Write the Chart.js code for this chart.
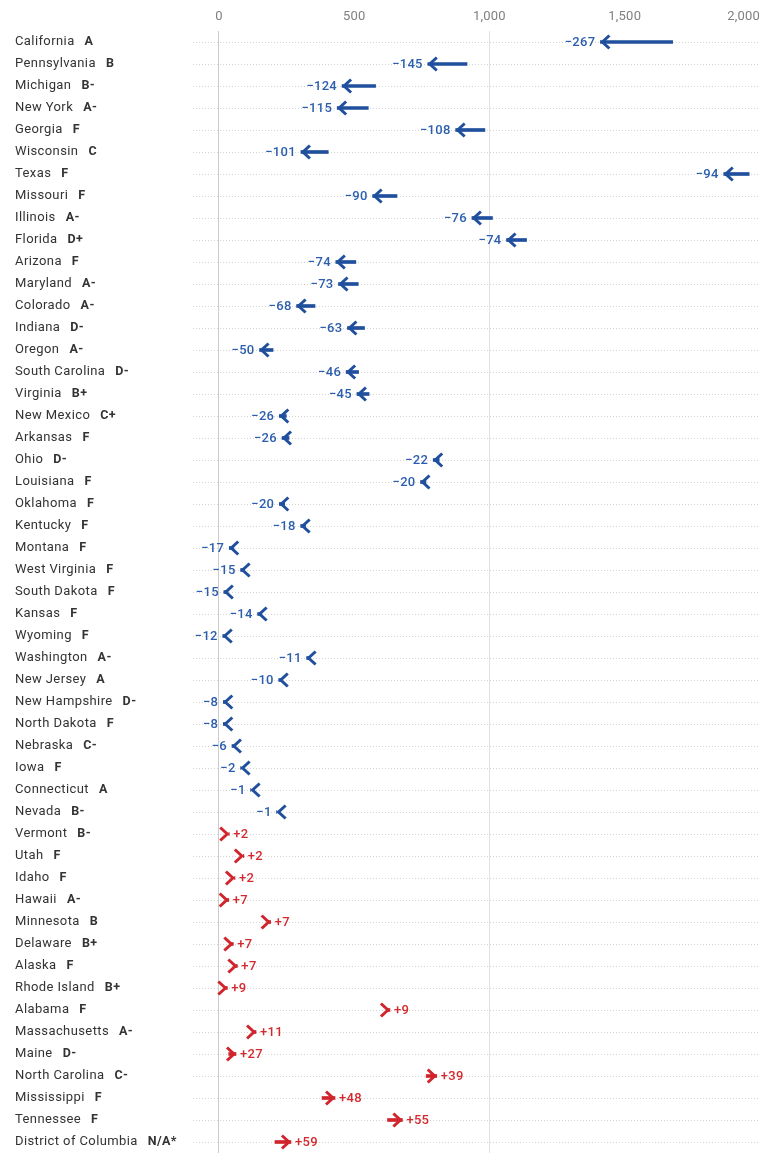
<!DOCTYPE html>
<html>
<head>
<meta charset="utf-8">
<script src="https://cdn.jsdelivr.net/npm/chart.js@4/dist/chart.umd.min.js"></script>
<style>
  html, body { margin: 0; padding: 0; background: #fff; }
  #wrap { width: 760px; height: 1153px; position: relative; }
</style>
</head>
<body>
<div id="wrap"><canvas id="arrowChart"></canvas></div>
<script>
// states in chart order, top to bottom
const states = ['California', 'Pennsylvania', 'Michigan', 'New York', 'Georgia', 'Wisconsin', 'Texas',
    'Missouri', 'Illinois', 'Florida', 'Arizona', 'Maryland', 'Colorado', 'Indiana', 'Oregon',
    'South Carolina', 'Virginia', 'New Mexico', 'Arkansas', 'Ohio', 'Louisiana', 'Oklahoma', 'Kentucky',
    'Montana', 'West Virginia', 'South Dakota', 'Kansas', 'Wyoming', 'Washington', 'New Jersey',
    'New Hampshire', 'North Dakota', 'Nebraska', 'Iowa', 'Connecticut', 'Nevada', 'Vermont', 'Utah',
    'Idaho', 'Hawaii', 'Minnesota', 'Delaware', 'Alaska', 'Rhode Island', 'Alabama', 'Massachusetts',
    'Maine', 'North Carolina', 'Mississippi', 'Tennessee', 'District of Columbia'];
const grades = ['A', 'B', 'B-', 'A-', 'F', 'C', 'F', 'F', 'A-', 'D+', 'F', 'A-', 'A-', 'D-', 'A-',
    'D-', 'B+', 'C+', 'F', 'D-', 'F', 'F', 'F', 'F', 'F', 'F', 'F', 'F', 'A-', 'A',
    'D-', 'F', 'C-', 'F', 'A', 'B-', 'B-', 'F', 'F', 'A-', 'B', 'B+', 'F', 'B+', 'F', 'A-',
    'D-', 'C-', 'F', 'F', 'N/A*'];
// arrow tail (before) and head (after)
const before = [1677, 917, 579, 552, 983, 404, 1960, 658, 1011, 1137, 506, 515, 355, 538, 200,
    516, 555, 249, 259, 814, 765, 243, 320, 55, 95, 33, 157, 26, 335, 231,
    24, 24, 54, 82, 118, 214, 36, 90, 57, 29, 184, 46, 61, 22, 623, 126,
    36, 766, 381, 623, 207];
const after = [1410, 772, 455, 437, 875, 303, 1866, 568, 935, 1063, 432, 442, 287, 475, 150,
    470, 510, 223, 233, 792, 745, 223, 302, 38, 80, 18, 143, 14, 324, 221,
    16, 16, 48, 80, 117, 213, 38, 92, 59, 36, 191, 53, 68, 31, 632, 137,
    63, 805, 429, 678, 266];
const change = [-267, -145, -124, -115, -108, -101, -94, -90, -76, -74, -74, -73, -68, -63, -50,
    -46, -45, -26, -26, -22, -20, -20, -18, -17, -15, -15, -14, -12, -11, -10,
    -8, -8, -6, -2, -1, -1, 2, 2, 2, 7, 7, 7, 7, 9, 9, 11,
    27, 39, 48, 55, 59];
const xTicks = [0, 500, 1000, 1500, 2000];

const BLUE = '#1f4f9d', BLUE_TXT = '#2c5eae';
const RED = '#d0252c', RED_TXT = '#d42a2f';

const arrowPlugin = {
    id: 'arrows',
    beforeDatasetsDraw(chart) {
        const { ctx, chartArea, scales: { y } } = chart;
        ctx.save();
        ctx.strokeStyle = '#d3d3d3';
        ctx.lineWidth = 1;
        ctx.setLineDash([1, 2]);
        states.forEach((s, i) => {
            const py = Math.round(y.getPixelForValue(i)) + 0.5;
            ctx.beginPath();
            ctx.moveTo(chartArea.left, py);
            ctx.lineTo(chartArea.right, py);
            ctx.stroke();
        });
        ctx.restore();
    },
    afterDatasetsDraw(chart) {
        const { ctx, scales: { x, y } } = chart;
        ctx.save();
        // heads + change labels
        states.forEach((s, i) => {
            const py = y.getPixelForValue(i);
            const tip = x.getPixelForValue(after[i]);
            const d = change[i] < 0 ? -1 : 1;
            ctx.strokeStyle = d < 0 ? BLUE : RED;
            ctx.lineWidth = 3;
            ctx.lineJoin = 'miter';
            ctx.lineCap = 'butt';
            const vx = tip - d * 2;
            ctx.beginPath();
            ctx.moveTo(vx - d * 7, py - 6.5);
            ctx.lineTo(vx, py);
            ctx.lineTo(vx - d * 7, py + 6.5);
            ctx.stroke();

            ctx.font = '500 13px Roboto';
            ctx.letterSpacing = '0.3px';
            ctx.textBaseline = 'middle';
            ctx.fillStyle = d < 0 ? BLUE_TXT : RED_TXT;
            if (d < 0) {
                ctx.textAlign = 'right';
                ctx.fillText('\u2212' + Math.abs(change[i]), tip - 5, py + 0.5);
            } else {
                ctx.textAlign = 'left';
                ctx.fillText('+' + change[i], tip + 4, py + 0.5);
            }
        });

        // state names + grades
        ctx.textAlign = 'left';
        ctx.textBaseline = 'middle';
        ctx.fillStyle = '#333';
        states.forEach((s, i) => {
            const py = y.getPixelForValue(i);
            ctx.font = '13px Roboto';
            ctx.letterSpacing = '0.4px';
            ctx.fillText(s, 15, py);
            const w = ctx.measureText(s).width;
            ctx.font = 'bold 12.5px Roboto';
            ctx.fillText(grades[i], 15 + w + 10, py);
        });

        // top axis labels
        ctx.font = '13px Roboto';
        ctx.letterSpacing = '0.2px';
        ctx.fillStyle = '#808080';
        xTicks.forEach((v, k) => {
            const px = x.getPixelForValue(v);
            ctx.textAlign = k === xTicks.length - 1 ? 'right' : 'center';
            ctx.fillText(v.toLocaleString('en-US'), px, 17);
        });
        ctx.restore();
    }
};

new Chart(document.getElementById('arrowChart').getContext('2d'), {
    type: 'bar',
    data: {
        labels: states,
        datasets: [{
            data: states.map((s, i) => [before[i], after[i]]),
            backgroundColor: change.map(c => c < 0 ? BLUE : RED),
            borderWidth: 0,
            borderSkipped: false,
            barThickness: 3
        }]
    },
    options: {
        indexAxis: 'y',
        responsive: true,
        maintainAspectRatio: false,
        animation: false,
        devicePixelRatio: 1,
        layout: { padding: { left: 193, right: 0, top: 31, bottom: 0 } },
        plugins: { legend: { display: false }, tooltip: { enabled: false } },
        events: [],
        scales: {
            x: {
                type: 'linear',
                position: 'top',
                min: -96,
                max: 2000,
                afterBuildTicks: axis => { axis.ticks = xTicks.map(v => ({ value: v })); },
                ticks: { display: false },
                border: { display: false },
                grid: {
                    drawTicks: false,
                    lineWidth: 1,
                    color: c => c.tick && c.tick.value === 0 ? '#cccccc'
                        : (c.tick && c.tick.value === 1000 ? '#e2e2e2' : 'rgba(0,0,0,0)')
                }
            },
            y: {
                display: false,
                offset: true
            }
        }
    },
    plugins: [arrowPlugin]
});
</script>
</body>
</html>
